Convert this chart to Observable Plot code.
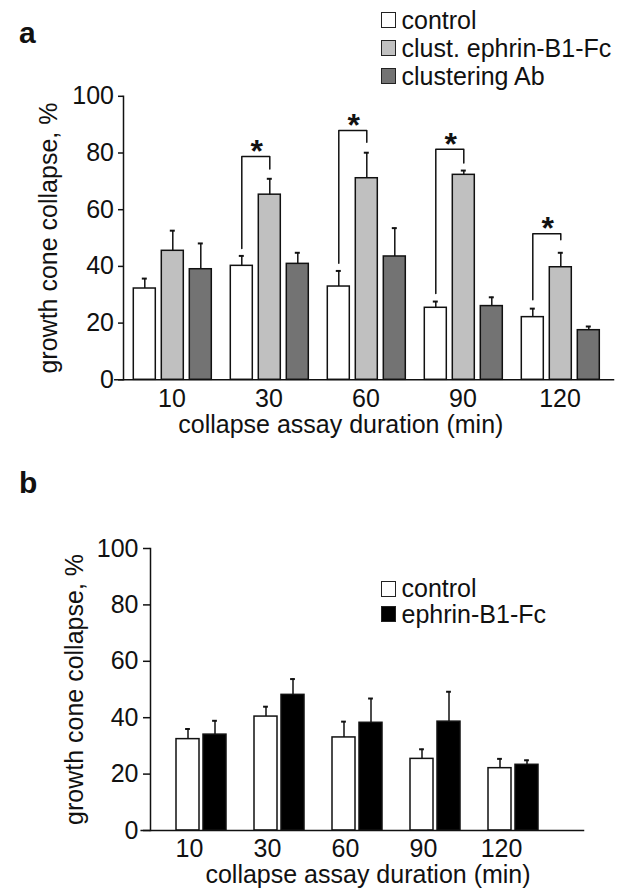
<!DOCTYPE html>
<html><head><meta charset="utf-8">
<script src="https://cdn.jsdelivr.net/npm/d3@7"></script>
<script src="https://cdn.jsdelivr.net/npm/@observablehq/plot@0.6"></script>
<style>
body{margin:0;background:#fff;font-family:"Liberation Sans",Arial,sans-serif;color:#111}
#fig{position:relative;width:631px;height:895px;overflow:hidden;background:#fff}
.tag{position:absolute;font-weight:bold;font-size:30px;line-height:30px;left:19px}
.legend{position:absolute;left:381px;font-size:25px}
.legend .row{display:flex;align-items:center;white-space:nowrap}
.legend .sw{width:13px;height:14px;border:1.5px solid #222;margin-right:5.5px;flex:none}
</style></head><body><div id="fig"></div><script>
// ---------- data ----------
const groups = ["10", "30", "60", "90", "120"];
const xTitle = "collapse assay duration (min)";
const yTitle = "growth cone collapse, %";
const yTicks = [0, 20, 40, 60, 80, 100];

// panel a
const seriesA = ["control", "clust. ephrin-B1-Fc", "clustering Ab"];
const colorsA = ["#ffffff", "#c0c0c0", "#737373"];
const controlA = [32.2, 40.2, 32.9, 25.4, 22.1];
const controlAErr = [3.5, 3.5, 5.5, 2.2, 3.0];
const clustA = [45.5, 65.3, 71.1, 72.3, 39.7];
const clustAErr = [7.1, 5.6, 9.0, 1.5, 5.1];
const abA = [39.0, 40.9, 43.5, 26.0, 17.5];
const abAErr = [9.1, 3.9, 10.0, 3.1, 1.3];
const sigGroups = ["30", "60", "90", "120"];
const sigTop = [78.8, 87.9, 81.3, 51.5];
const sigLeftEnd = [46.3, 41.1, 30.4, 28.2];
const sigRightEnd = [74.4, 83.8, 76.5, 49.4];

// panel b
const seriesB = ["control", "ephrin-B1-Fc"];
const colorsB = ["#ffffff", "#000000"];
const controlB = [32.4, 40.4, 33.0, 25.4, 22.1];
const controlBErr = [3.6, 3.5, 5.6, 3.4, 3.3];
const ephrinB = [34.0, 48.1, 38.2, 38.6, 23.3];
const ephrinBErr = [4.9, 5.6, 8.6, 10.6, 1.6];

// ---------- build tables ----------
function rows(series, vals, errs) {
  const out = [];
  series.forEach((s, k) => groups.forEach((g, i) => out.push({group: g, series: s, value: vals[k][i], err: errs[k][i]})));
  return out;
}
const rowsA = rows(seriesA, [controlA, clustA, abA], [controlAErr, clustAErr, abAErr]);
const rowsB = rows(seriesB, [controlB, ephrinB], [controlBErr, ephrinBErr]);
const sigRows = sigGroups.map((g, i) => ({g, top: sigTop[i], left: sigLeftEnd[i], right: sigRightEnd[i]}));
const bracketPts = sigRows.flatMap(d => [
  {g: d.g, s: seriesA[0], y: d.left},
  {g: d.g, s: seriesA[0], y: d.top},
  {g: d.g, s: seriesA[1], y: d.top},
  {g: d.g, s: seriesA[1], y: d.right}
]);

const ink = "#111";
const baseStyle = {fontSize: "25px", fontFamily: "'Liberation Sans', Arial, sans-serif", color: ink, background: "transparent", overflow: "visible"};

function panel(o) {
  const marks = [
    Plot.barY(o.rows, {fx: "group", x: "series", y: "value", fill: "series", stroke: ink, strokeWidth: 1.5}),
    Plot.ruleX(o.rows, {fx: "group", x: "series", y1: "value", y2: d => d.value + d.err, stroke: ink, strokeWidth: 1.5}),
    Plot.tickY(o.rows, {fx: "group", x: "series", y: d => d.value + d.err, insetLeft: o.capInset, insetRight: o.capInset, stroke: ink, strokeWidth: 2}),
    ...(o.extra || []),
    Plot.axisY({ticks: yTicks, tickSize: o.tickSize, tickPadding: o.tickPadding, label: null, strokeWidth: 1.5}),
    Plot.axisFx({anchor: "bottom", tickSize: 0, tickPadding: o.fxPadding, label: null}),
    Plot.frame({anchor: "left", facet: "super", stroke: ink, strokeWidth: 1.5}),
    Plot.frame({anchor: "bottom", facet: "super", insetLeft: o.lineLeft, insetRight: o.lineRight, stroke: ink, strokeWidth: 1.5}),
    Plot.text([yTitle], {facet: "super", frameAnchor: "left", textAnchor: "middle", rotate: -90, lineAnchor: "top", dx: o.yTitleDx, text: d => d}),
    Plot.text([xTitle], {facet: "super", frameAnchor: "bottom", textAnchor: "middle", lineAnchor: "bottom", dx: o.xTitleDx, dy: o.xTitleDy, text: d => d})
  ];
  return Plot.plot({
    width: 631, height: o.height,
    marginLeft: o.ml, marginRight: o.mr, marginTop: o.mt, marginBottom: o.mb,
    style: baseStyle,
    fx: {domain: groups, paddingInner: 0, paddingOuter: 0, axis: null},
    x: {domain: o.series, paddingInner: o.pi, paddingOuter: 0, insetLeft: o.il, insetRight: o.ir, axis: null},
    y: {domain: [0, 100], axis: null},
    color: {domain: o.series, range: o.colors},
    marks
  });
}

const fig = document.getElementById("fig");

const svgA = panel({
  rows: rowsA, series: seriesA, colors: colorsA,
  height: 375, ml: 121.7, mr: 22.3, mt: 20.8, mb: 70.7,
  pi: 0.216, il: 9, ir: 8.4, capInset: 8.5,
  tickSize: 5, tickPadding: 4.5, fxPadding: 9,
  lineLeft: -8.7, lineRight: -5, yTitleDx: -84.7, xTitleDx: -25.2, xTitleDy: 53,
  extra: [
    Plot.line(bracketPts, {fx: "g", x: "s", y: "y", z: "g", stroke: ink, strokeWidth: 1.5}),
    Plot.text(sigRows, {fx: "g", x: () => seriesA[0], y: "top", text: () => "*", dx: 15, dy: 5.3, lineAnchor: "bottom", fontSize: 32, fontWeight: "bold"})
  ]
});
svgA.style.position = "absolute"; svgA.style.left = "0px"; svgA.style.top = "75px";
fig.appendChild(svgA);

const svgB = panel({
  rows: rowsB, series: seriesB, colors: colorsB,
  height: 370, ml: 150, mr: 91, mt: 23, mb: 65,
  pi: 0.13, il: 26, ir: 1, capInset: 9.1,
  tickSize: 7, tickPadding: 5, fxPadding: 9,
  lineLeft: -9.3, lineRight: -43, yTitleDx: -85, xTitleDx: 22.5, xTitleDy: 52
});
svgB.style.position = "absolute"; svgB.style.left = "0px"; svgB.style.top = "525px";
fig.appendChild(svgB);

// panel tags
function tag(t, top) { const d = document.createElement("div"); d.className = "tag"; d.textContent = t; d.style.top = top + "px"; fig.appendChild(d); }
tag("a", 18); tag("b", 468);

// legends
function legend(series, colors, top, rowH) {
  const L = document.createElement("div"); L.className = "legend"; L.style.top = top + "px";
  series.forEach((s, i) => {
    const r = document.createElement("div"); r.className = "row"; r.style.height = rowH + "px";
    const sw = document.createElement("span"); sw.className = "sw"; sw.style.background = colors[i];
    const t = document.createElement("span"); t.textContent = s;
    r.appendChild(sw); r.appendChild(t); L.appendChild(r);
  });
  fig.appendChild(L);
}
legend(seriesA, colorsA, 6, 28);
legend(seriesB, colorsB, 576, 25.5);
</script></body></html>
